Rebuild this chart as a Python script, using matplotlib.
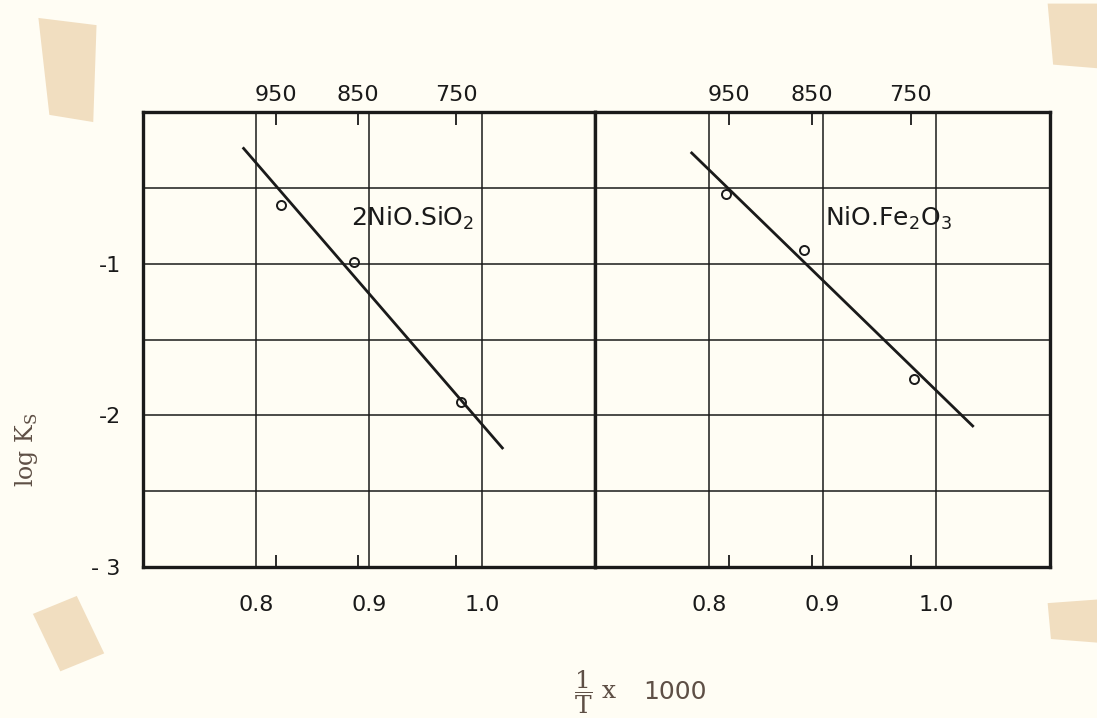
import numpy as np
import matplotlib.pyplot as plt
from matplotlib.patches import Polygon

# temperature marks (deg C) shown on the top axis, placed at 1000/T
temps_c = [950, 850, 750]
x_ticks = [0.8, 0.9, 1.0]
x_tick_labels = ["0.8", "0.9", "1.0"]
y_ticks = [-1, -2, -3]
y_tick_labels = ["-1", "-2", "- 3"]

# 2NiO.SiO2
sio_x = [0.822, 0.887, 0.981]
sio_y = [-0.61, -0.99, -1.91]
sio_line_x = [0.789, 1.018]
sio_line_y = [-0.24, -2.215]

# NiO.Fe2O3
fe_x = [0.815, 0.884, 0.980]
fe_y = [-0.54, -0.91, -1.76]
fe_line_x = [0.785, 1.032]
fe_line_y = [-0.27, -2.07]

paper = "#fffdf4"
ink = "#1a1a1a"
label_col = "#5e4f45"

fig = plt.figure(figsize=(10.97, 7.18), dpi=100, facecolor=paper)

# bits of sticky tape at the corners of the scan
tape = [
    [(0.035, 0.975), (0.088, 0.965), (0.085, 0.83), (0.045, 0.84)],
    [(0.955, 0.995), (1.0, 0.995), (1.0, 0.905), (0.96, 0.91)],
    [(0.03, 0.145), (0.07, 0.17), (0.095, 0.09), (0.055, 0.065)],
    [(0.955, 0.16), (1.0, 0.165), (1.0, 0.105), (0.958, 0.11)],
]
for pts in tape:
    fig.patches.append(Polygon(pts, closed=True, transform=fig.transFigure,
                               facecolor="#e6c596", alpha=0.55, edgecolor="none"))

ax1 = fig.add_axes([0.1304, 0.2103, 0.4120, 0.6337])
ax2 = fig.add_axes([0.5424, 0.2103, 0.4148, 0.6337])

panels = [(ax1, sio_x, sio_y, sio_line_x, sio_line_y, r"2NiO.SiO$_\mathregular{2}$", 0.884),
          (ax2, fe_x, fe_y, fe_line_x, fe_line_y, r"NiO.Fe$_\mathregular{2}$O$_\mathregular{3}$", 0.902)]

temp_x = [1000.0 / (t + 273.15) for t in temps_c]

for i, (ax, px, py, lx, ly, name, tx) in enumerate(panels):
    ax.set_facecolor(paper)
    ax.set_xlim(0.7, 1.1)
    ax.set_ylim(-3, 0)
    for y in np.arange(-2.5, 0, 0.5):
        ax.axhline(y, color=ink, lw=1.1, zorder=1)
    for x in x_ticks:
        ax.axvline(x, color=ink, lw=1.1, zorder=1)
    ax.plot(lx, ly, color=ink, lw=2.0, zorder=3)
    ax.plot(px, py, "o", mfc="none", mec=ink, ms=6.5, mew=1.4, zorder=4)
    ax.text(tx, -0.7, name, fontsize=18, color=ink, va="center", ha="left")

    for s in ax.spines.values():
        s.set_linewidth(2.4)
        s.set_color(ink)

    ax.set_xticks(x_ticks)
    ax.set_xticklabels(x_tick_labels, fontsize=16, color=ink)
    ax.tick_params(axis="x", which="major", length=0, pad=20)
    ax.set_xticks(temp_x, minor=True)
    ax.tick_params(axis="x", which="minor", direction="in", length=9, width=1.3, color=ink)

    top = ax.twiny()
    top.set_xlim(ax.get_xlim())
    top.set_xticks(temp_x)
    top.set_xticklabels([str(t) for t in temps_c], fontsize=16, color=ink)
    top.tick_params(axis="x", direction="in", length=9, width=1.3, color=ink, pad=5)
    for s in top.spines.values():
        s.set_visible(False)

    ax.set_yticks(y_ticks)
    if i == 0:
        ax.set_yticklabels(y_tick_labels, fontsize=16, color=ink)
        ax.tick_params(axis="y", length=0, pad=16)
    else:
        ax.set_yticklabels([])
        ax.tick_params(axis="y", length=0)

fig.text(0.024, 0.373, r"log K$_\mathregular{S}$", rotation=90, fontsize=17,
         family="DejaVu Serif", color=label_col, ha="center", va="center")
fig.text(0.543, 0.036, r"$\mathregular{\dfrac{1}{T}}$ x", fontsize=18,
         family="DejaVu Serif", color=label_col, ha="center", va="center")
fig.text(0.586, 0.036, "1000", fontsize=18, color=label_col, ha="left", va="center")

fig.savefig("out.png", dpi=100, facecolor=paper)
